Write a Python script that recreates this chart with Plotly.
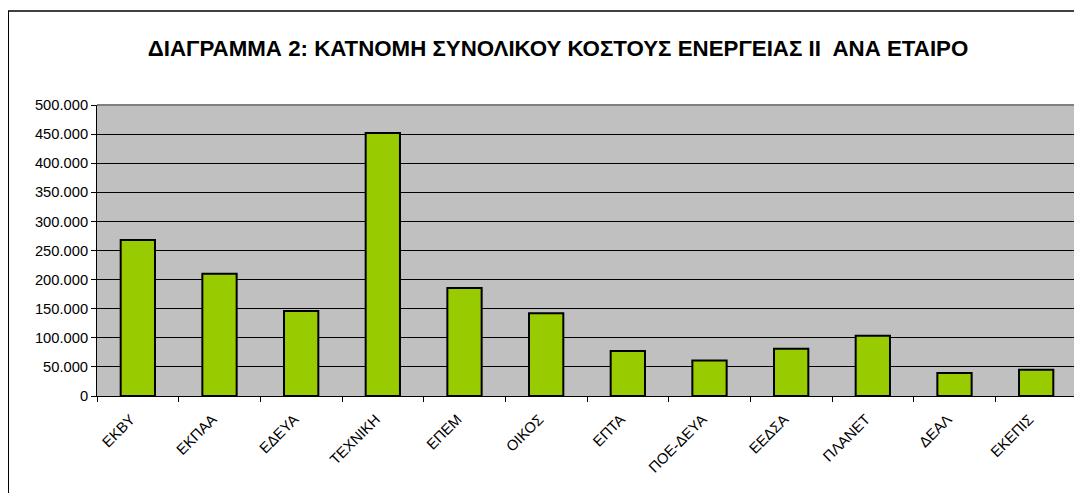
import plotly.graph_objects as go

categories = ["ΕΚΒΥ", "ΕΚΠΑΑ", "ΕΔΕΥΑ", "ΤΕΧΝΙΚΗ", "ΕΠΕΜ", "ΟΙΚΟΣ",
              "ΕΠΤΑ", "ΠΟΕ-ΔΕΥΑ", "ΕΕΔΣΑ", "ΠΛΑΝΕΤ", "ΔΕΑΛ", "ΕΚΕΠΙΣ"]
values = [268000, 210000, 146000, 452000, 185500, 142000,
          77500, 61000, 81000, 103500, 39500, 45000]
y_ticks = [0, 50000, 100000, 150000, 200000, 250000, 300000, 350000, 400000, 450000, 500000]
title_text = "ΔΙΑΓΡΑΜΜΑ 2: ΚΑΤΝΟΜΗ ΣΥΝΟΛΙΚΟΥ ΚΟΣΤΟΥΣ ΕΝΕΡΓΕΙΑΣ ΙΙ  ΑΝΑ ΕΤΑΙΡΟ"

# page body has an 8px margin, so the figure is sized to fit the remaining area
W, H = 1074, 485
L, R, T, B = 89, 5, 97, 97
pw, ph = W - L - R, H - T - B

fig = go.Figure(go.Bar(
    x=categories, y=values,
    marker=dict(color="#99CC00", line=dict(color="black", width=2)),
    hoverinfo="x+y",
))

font = "Liberation Sans, Arial, sans-serif"
fs = 14.7
fig.update_layout(
    width=W, height=H,
    margin=dict(l=L, r=R, t=T, b=B, autoexpand=False),
    paper_bgcolor="white",
    plot_bgcolor="#C0C0C0",
    separators=",.",
    bargap=0.58,
    showlegend=False,
    font=dict(family=font, size=fs, color="black"),
    title=dict(text="<b>" + title_text + "</b>", x=550 / W, xanchor="center",
               y=1 - 40 / H, yanchor="middle", xref="container", yref="container",
               font=dict(family=font, size=22.3, color="black")),
    xaxis=dict(
        type="category", tickangle=-45, ticks="outside", tickson="boundaries",
        ticklen=5, tickcolor="black", tickwidth=1,
        ticklabelstandoff=8, ticklabelshift=-7,
        showline=True, linecolor="black", linewidth=1,
        showgrid=False, tickfont=dict(family=font, size=fs, color="black"),
    ),
    yaxis=dict(
        range=[0, 500000], tickvals=y_ticks, tickformat=",d",
        ticks="outside", ticklen=5, tickcolor="black", tickwidth=1,
        showline=True, linecolor="black", linewidth=1,
        showgrid=True, gridcolor="black", gridwidth=1, zeroline=False,
        tickfont=dict(family=font, size=fs, color="black"),
    ),
    shapes=[
        # plot area border (top and right) in gray
        dict(type="line", xref="paper", yref="paper", x0=0, x1=1, y0=1, y1=1,
             line=dict(color="#808080", width=2)),
        dict(type="line", xref="paper", yref="paper", x0=1, x1=1, y0=0, y1=1,
             line=dict(color="#808080", width=2)),
        # outer chart frame (left and top edges visible)
        dict(type="line", xref="paper", yref="paper",
             x0=(0 - L) / pw, x1=(0 - L) / pw,
             y0=(H - T - 520) / ph, y1=(H - B - 3) / ph,
             line=dict(color="black", width=2)),
        dict(type="line", xref="paper", yref="paper",
             x0=(0 - L) / pw, x1=(W + 20 - L) / pw,
             y0=(H - B - 3) / ph, y1=(H - B - 3) / ph,
             line=dict(color="black", width=1.5)),
    ],
)

fig.write_html("out.html")
